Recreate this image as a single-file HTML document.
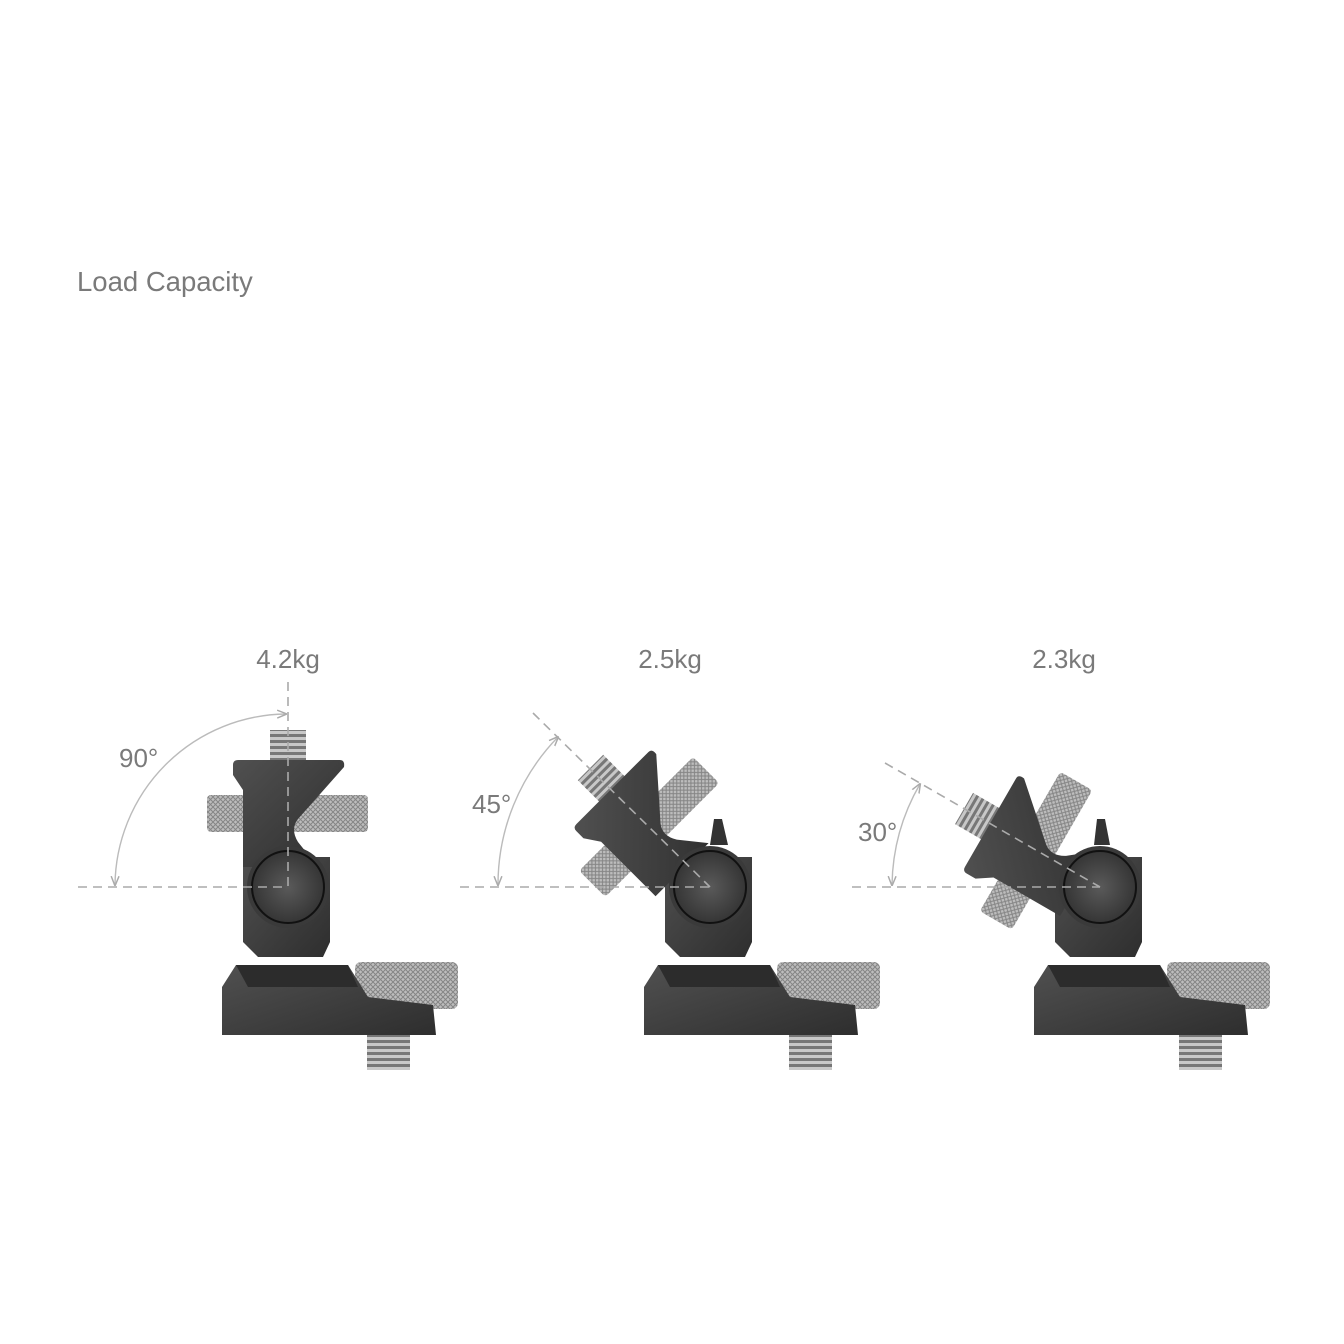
<!DOCTYPE html>
<html><head><meta charset="utf-8"><style>
html,body{margin:0;padding:0;background:#fff;}
svg{display:block;}
text{font-family:"Liberation Sans",sans-serif;fill:#7a7a7a;}
</style></head><body>
<svg width="1344" height="1344" viewBox="0 0 1344 1344" xmlns="http://www.w3.org/2000/svg">
<defs>
<pattern id="kn" width="5" height="5" patternUnits="userSpaceOnUse">
<rect width="5" height="5" fill="#bdbdbd"/>
<path d="M0,5 L5,0 M0,0 L5,5" stroke="#858585" stroke-width="1"/>
</pattern>
<linearGradient id="dk" x1="0" y1="0" x2="1" y2="1">
<stop offset="0" stop-color="#505050"/><stop offset="1" stop-color="#2e2e2e"/></linearGradient>
<radialGradient id="kb" cx="0.5" cy="0.5" r="0.6">
<stop offset="0" stop-color="#5a5a5a"/><stop offset="1" stop-color="#2e2e2e"/></radialGradient>
<pattern id="th" width="6" height="6" patternUnits="userSpaceOnUse">
<rect width="6" height="6" fill="#c8c8c8"/><rect y="3" width="6" height="3" fill="#777"/></pattern>
<marker id="ar" viewBox="0 0 10 10" refX="9" refY="5" markerWidth="7" markerHeight="7" orient="auto-start-reverse">
<path d="M0,1 L10,5 L0,9" fill="none" stroke="#aaa" stroke-width="1.5"/></marker>
<g id="base">
<rect x="67" y="75" width="103" height="47" rx="6" fill="url(#kn)"/>
<rect x="79" y="146" width="43" height="37" fill="url(#th)"/>
<path d="M-52,78 L60,78 L80,110 L145,118 L148,148 L-66,148 L-66,100 Z" fill="url(#dk)"/>
<path d="M-52,78 L60,78 L70,100 L-40,100 Z" fill="#2c2c2c"/>
<path d="M-45,-30 L-45,55 L-30,70 L35,70 L42,55 L42,-30 Z" fill="url(#dk)"/>
</g>
<g id="head">
<rect x="-81" y="-92" width="161" height="37" rx="4" fill="url(#kn)"/>
<rect x="-18" y="-157" width="36" height="31" fill="url(#th)"/>
<path d="M-55,-122 Q-55,-127 -50,-127 L52,-127 Q57,-127 56,-120 L10,-68 Q2,-58 10,-45 L30,-20 L-45,-20 L-45,-97 L-55,-112 Z" fill="url(#dk)"/>
</g>
<g id="knob">
<circle r="41" fill="#3a3a3a"/><circle r="36" fill="url(#kb)" stroke="#111" stroke-width="2"/>
</g>
</defs>

<text x="77" y="291" font-size="27.5">Load Capacity</text>
<text x="288" y="668" font-size="26" text-anchor="middle">4.2kg</text>
<text x="670" y="668" font-size="26" text-anchor="middle">2.5kg</text>
<text x="1064" y="668" font-size="26" text-anchor="middle">2.3kg</text>
<text x="119" y="767" font-size="26">90°</text>
<text x="472" y="813" font-size="26">45°</text>
<text x="858" y="841" font-size="26">30°</text>

<g transform="translate(288,887)">
<use href="#base"/><use href="#head"/><use href="#knob"/>
</g>
<g transform="translate(710,887)">
<use href="#base"/>
<path d="M0,-42 L4,-68 L12,-68 L18,-42 Z" fill="#333"/>
<g transform="rotate(-45) translate(0,-12)"><use href="#head"/></g>
<use href="#knob"/>
</g>
<g transform="translate(1100,887)">
<use href="#base"/>
<path d="M-6,-42 L-3,-68 L5,-68 L10,-42 Z" fill="#333"/>
<g transform="rotate(-60)"><use href="#head"/></g>
<use href="#knob"/>
</g>

<g stroke="#aaa" stroke-width="1.6" fill="none" stroke-dasharray="9,6">
<line x1="78" y1="887" x2="288" y2="887"/>
<line x1="288" y1="682" x2="288" y2="887"/>
<line x1="460" y1="887" x2="710" y2="887"/>
<line x1="533" y1="713" x2="710" y2="887"/>
<line x1="852" y1="887" x2="1100" y2="887"/>
<line x1="885" y1="763" x2="1100" y2="887"/>
</g>
<g stroke="#bbb" stroke-width="1.4" fill="none">
<path d="M115,885 A173,173 0 0 1 286,714" marker-start="url(#ar)" marker-end="url(#ar)"/>
<path d="M498,885 A212,212 0 0 1 558,737" marker-start="url(#ar)" marker-end="url(#ar)"/>
<path d="M892,885 A208,208 0 0 1 920,784" marker-start="url(#ar)" marker-end="url(#ar)"/>
</g>
</svg>
</body></html>
